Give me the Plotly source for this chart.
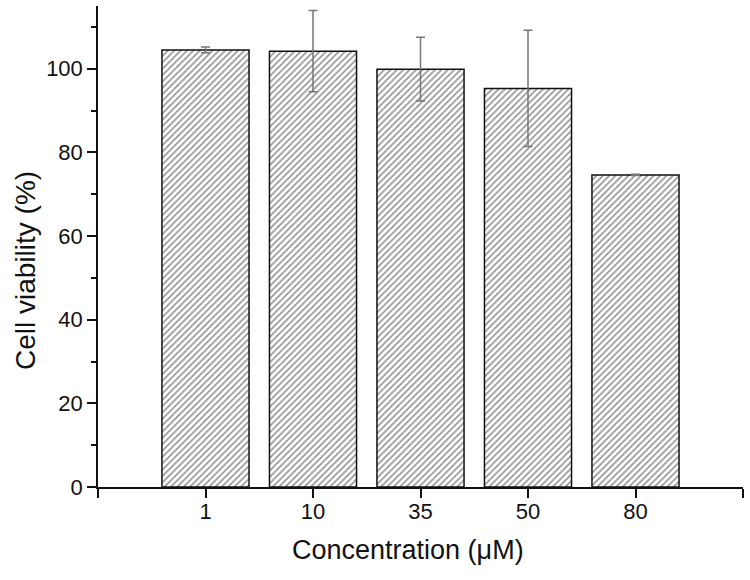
import plotly.graph_objects as go

categories = ["1", "10", "35", "50", "80"]
positions = [1, 2, 3, 4, 5]
viability = [104.5, 104.2, 99.9, 95.3, 74.6]
errors = [0.7, 9.7, 7.6, 13.9, 0.15]

W, H = 750, 580
L, R, T, B = 98, 7, 6, 93

fig = go.Figure()
fig.add_trace(go.Bar(
    x=positions, y=viability, width=0.81,
    marker=dict(color="white", line=dict(color="#111", width=1.5),
                pattern=dict(shape="/", fgcolor="#222", bgcolor="white", size=4.5, solidity=0.35)),
    error_y=dict(type="data", array=errors, visible=True, color="#777", thickness=1.5, width=4.5),
    showlegend=False,
))

font = "Liberation Sans, Arial, sans-serif"
fig.update_layout(
    width=W, height=H,
    margin=dict(l=L, r=R, t=T, b=B, autoexpand=False),
    plot_bgcolor="white", paper_bgcolor="white",
    font=dict(family=font, color="#111", size=22),
    xaxis=dict(range=[0, 6], tickvals=[0] + positions + [6], ticktext=[""] + categories + [""],
               showline=True, linecolor="#111", linewidth=1.5, ticks="outside", ticklen=9,
               tickwidth=1.5, tickcolor="#111", showgrid=False, zeroline=False, automargin=False,
               ticklabelstandoff=-5),
    yaxis=dict(range=[0, 115], tickvals=[0, 20, 40, 60, 80, 100],
               showline=True, linecolor="#111", linewidth=1.5, ticks="outside", ticklen=9,
               tickwidth=1.5, tickcolor="#111", showgrid=False, zeroline=False, automargin=False,
               minor=dict(tickvals=[10, 30, 50, 70, 90, 110], ticks="outside", ticklen=5,
                          tickwidth=1.5, tickcolor="#111")),
    annotations=[
        dict(text="Concentration (μM)", xref="paper", yref="paper",
             x=(408 - L) / (W - L - R), y=-(550 - (H - B)) / (H - T - B),
             xanchor="center", yanchor="middle", showarrow=False, font=dict(size=27)),
        dict(text="Cell viability (%)", xref="paper", yref="paper",
             x=-(L - 25) / (W - L - R), y=((H - B) - 271) / (H - T - B),
             xanchor="center", yanchor="middle", textangle=-90, showarrow=False,
             font=dict(size=28)),
    ],
)
fig.write_html("out.html", config={"displayModeBar": False},
               post_script="document.body.style.margin='0';")
